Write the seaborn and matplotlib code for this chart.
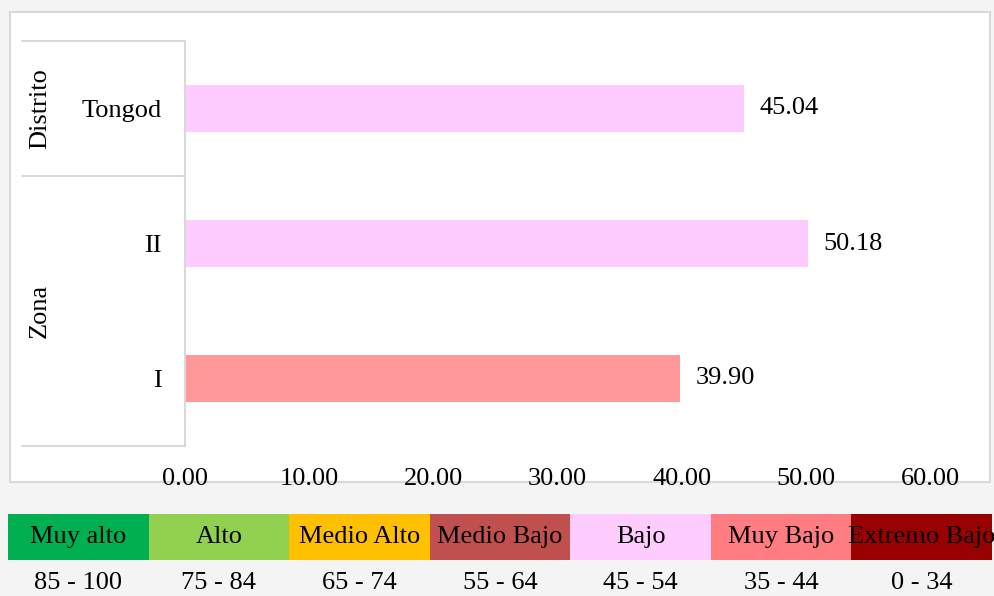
import matplotlib
matplotlib.use("Agg")
import matplotlib.pyplot as plt
from matplotlib.patches import Rectangle
from matplotlib.lines import Line2D
import seaborn as sns
import pandas as pd

# chart data
categories = ["Tongod", "II", "I"]
values = [45.04, 50.18, 39.90]
bar_colors = ["#FFCCFF", "#FFCCFF", "#FF9999"]
groups = ["Distrito", "Zona"]
group_sizes = [1, 2]

# scale legend
levels = ["Muy alto", "Alto", "Medio Alto", "Medio Bajo", "Bajo", "Muy Bajo", "Extremo Bajo"]
ranges = ["85 - 100", "75 - 84", "65 - 74", "55 - 64", "45 - 54", "35 - 44", "0 - 34"]
level_colors = ["#00B050", "#92D050", "#FFC000", "#C0504D", "#FFCCFF", "#FF7C80", "#990000"]

sns.set_theme(style="white")
plt.rcParams["font.family"] = ["Liberation Serif", "DejaVu Serif"]
plt.rcParams["text.color"] = "black"
plt.rcParams["xtick.color"] = "black"
plt.rcParams["ytick.color"] = "black"

W, H = 994, 596
fig = plt.figure(figsize=(W / 100, H / 100), dpi=100)
fig.patch.set_facecolor("#F4F4F4")

def fx(px):
    return px / W

def fy(py):
    return 1 - py / H

# white chart box
fig.patches.append(Rectangle((fx(10), fy(482)), fx(980), 470 / H, transform=fig.transFigure,
                             facecolor="white", edgecolor="#D9D9D9", linewidth=1.5, zorder=-5))

ax = fig.add_axes([fx(185), fy(446), fx(745), 405 / H])
ax.set_facecolor("none")
df = pd.DataFrame({"cat": categories, "val": values})
sns.barplot(data=df, y="cat", x="val", hue="cat", palette=bar_colors, orient="h",
            width=0.35, legend=False, ax=ax, saturation=1, linewidth=0)
for c in ax.containers:
    ax.bar_label(c, fmt="%.2f", padding=11, fontsize=19, color="black")
ax.set_xlim(0, 60)
ax.set_ylim(2.5, -0.5)
ax.set_xticks(range(0, 61, 10))
ax.set_xticklabels([f"{v:.2f}" for v in range(0, 61, 10)], fontsize=19)
ax.tick_params(axis="x", length=0, pad=16, colors="black")
ax.tick_params(axis="y", length=0, pad=17, labelsize=19, colors="black")
ax.set_xlabel("")
ax.set_ylabel("")
for s in ["top", "right", "bottom"]:
    ax.spines[s].set_visible(False)
ax.spines["left"].set_color("#D9D9D9")
ax.spines["left"].set_linewidth(1.5)

# group label box
x0 = (22 - 185) / 745
n = len(categories)
edges = [0]
for g in group_sizes:
    edges.append(edges[-1] + g)
for e in edges:
    yv = 1 - e / n
    ax.add_line(Line2D([x0, 0], [yv, yv], transform=ax.transAxes, color="#D9D9D9",
                       linewidth=1.5, clip_on=False))
for g, a, b in zip(groups, edges[:-1], edges[1:]):
    ax.text((40 - 185) / 745, 1 - (a + b) / 2 / n, g, transform=ax.transAxes, rotation=90,
            ha="center", va="center", fontsize=19, color="black")

# scale legend strip
lax = fig.add_axes([fx(8), fy(560), fx(984), 46 / H])
lax.bar(range(len(levels)), [1] * len(levels), width=1, color=level_colors, linewidth=0)
lax.set_xlim(-0.5, len(levels) - 0.5)
lax.set_ylim(0, 1)
lax.axis("off")
for i, (lv, rg) in enumerate(zip(levels, ranges)):
    lax.text(i, 0.5, lv, ha="center", va="center", fontsize=19, color="black")
    lax.text(i, -0.5, rg, ha="center", va="center", fontsize=19, color="black", clip_on=False)

fig.savefig("out.png", dpi=100, facecolor=fig.get_facecolor())
